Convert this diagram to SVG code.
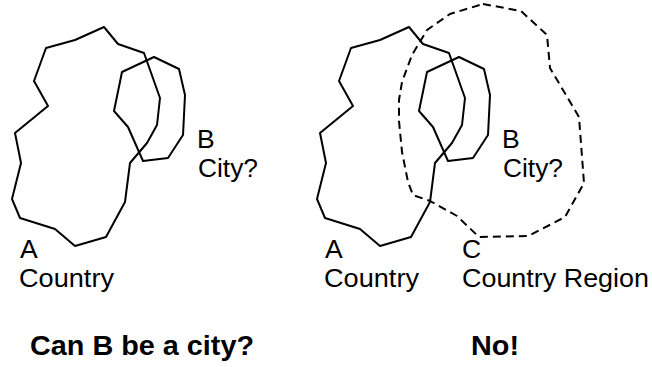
<svg xmlns="http://www.w3.org/2000/svg" width="652" height="367" viewBox="0 0 652 367">
  <style>
    .region { fill: none; stroke: #000; stroke-width: 2; stroke-linejoin: round; }
    .dashed { stroke-dasharray: 8 5; }
    .label { font-family: "Liberation Sans", Arial, sans-serif; font-size: 26.5px; fill: #000; }
    .caption { font-family: "Liberation Sans", Arial, sans-serif; font-size: 28px; font-weight: bold; fill: #000; }
  </style>
  <defs>
    <polygon id="shapeA" points="104,27 118,44 144,53 160,98 157,125 147,143 130,163 125,202 106,237 75,246 55,229 20,218 12,199 21,163 15,133 48,106 34,81 46,48 75,40"/>
    <polygon id="shapeB" points="154,57 179,69 185,95 183,135 168,158 143,161 128,127 114,111 122,72"/>
  </defs>
  <rect width="652" height="367" fill="#fff"/>

  <g id="left-A">
    <use href="#shapeA" class="region"/>
    <text class="label" x="20" y="258">A</text>
    <text class="label" x="19" y="287" textLength="95" lengthAdjust="spacingAndGlyphs">Country</text>
  </g>
  <g id="left-B">
    <use href="#shapeB" class="region"/>
    <text class="label" x="197" y="148">B</text>
    <text class="label" x="198" y="177" textLength="60" lengthAdjust="spacingAndGlyphs">City?</text>
  </g>

  <g id="right-A" transform="translate(305,0)">
    <use href="#shapeA" class="region"/>
    <text class="label" x="20" y="258">A</text>
    <text class="label" x="19" y="287" textLength="95" lengthAdjust="spacingAndGlyphs">Country</text>
  </g>
  <g id="right-B" transform="translate(305,0)">
    <use href="#shapeB" class="region"/>
    <text class="label" x="197" y="148">B</text>
    <text class="label" x="198" y="177" textLength="60" lengthAdjust="spacingAndGlyphs">City?</text>
  </g>
  <g id="right-C">
    <polygon class="region dashed" points="483,4 521,11 547,35 550,68 579,117 584,183 565,217 542,229 528,236 479,237 457,216 430,201 413,195 408,182 402,152 399,121 399,100 402,82 412,55 427,30 450,14"/>
    <text class="label" x="462" y="258">C</text>
    <text class="label" x="462" y="287" textLength="187" lengthAdjust="spacingAndGlyphs">Country Region</text>
  </g>

  <g id="captions">
    <text class="caption" x="30" y="355" textLength="224" lengthAdjust="spacingAndGlyphs">Can B be a city?</text>
    <text class="caption" x="471" y="355" textLength="48" lengthAdjust="spacingAndGlyphs">No!</text>
  </g>
</svg>
